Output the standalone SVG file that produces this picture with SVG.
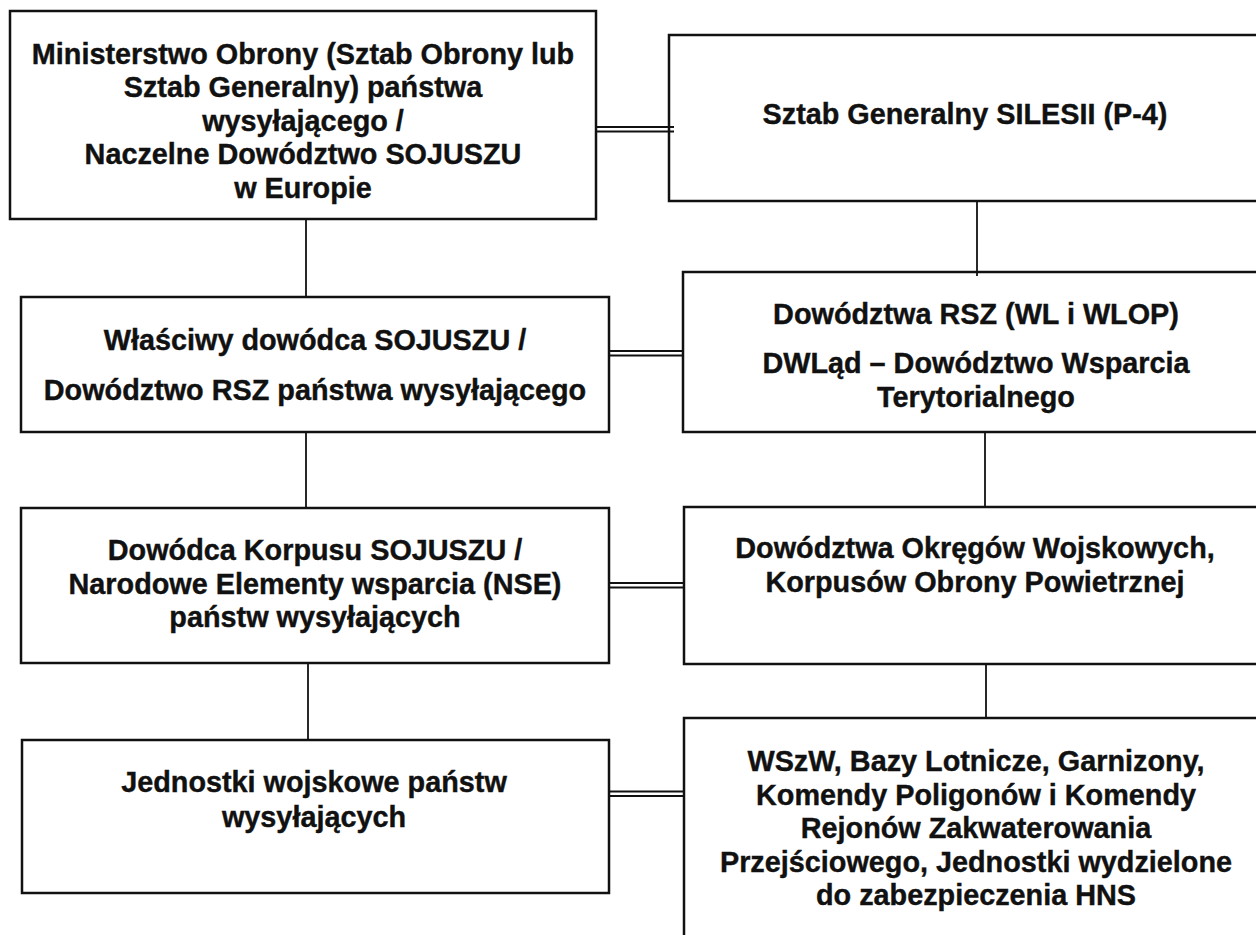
<svg xmlns="http://www.w3.org/2000/svg" width="1256" height="935" viewBox="0 0 1256 935">
<style>
.box{fill:#fff;stroke:#111;stroke-width:2.5}
.c{stroke:#111;stroke-width:1.8;fill:none}
.d{stroke:#111;stroke-width:2;fill:none}
.t{font-family:"Liberation Sans",Arial,sans-serif;font-weight:bold;font-size:28.8px;fill:#111;stroke:#111;stroke-width:0.4;text-anchor:middle}
</style>
<rect width="1256" height="935" fill="#fff"/>
<g id="n1">
<rect class="box" x="10" y="11" width="586" height="208"/>
<text class="t" x="303" y="63.5">Ministerstwo Obrony (Sztab Obrony lub</text>
<text class="t" x="303" y="97">Sztab Generalny) państwa</text>
<text class="t" x="303" y="130.5">wysyłającego /</text>
<text class="t" x="303" y="164">Naczelne Dowództwo SOJUSZU</text>
<text class="t" x="303" y="197.5">w Europie</text>
</g>
<g id="n2">
<rect class="box" x="669" y="35" width="600" height="166"/>
<text class="t" x="965" y="123.5">Sztab Generalny SILESII (P-4)</text>
</g>
<g id="n3">
<rect class="box" x="21" y="297" width="588" height="135"/>
<text class="t" x="315" y="350">Właściwy dowódca SOJUSZU /</text>
<text class="t" x="315" y="399.5">Dowództwo RSZ państwa wysyłającego</text>
</g>
<g id="n4">
<rect class="box" x="683" y="272" width="590" height="160"/>
<text class="t" x="976" y="324">Dowództwa RSZ (WL i WLOP)</text>
<text class="t" x="976" y="373">DWLąd – Dowództwo Wsparcia</text>
<text class="t" x="976" y="407">Terytorialnego</text>
</g>
<g id="n5">
<rect class="box" x="21" y="508" width="588" height="155"/>
<text class="t" x="315" y="560">Dowódca Korpusu SOJUSZU /</text>
<text class="t" x="315" y="593.5">Narodowe Elementy wsparcia (NSE)</text>
<text class="t" x="315" y="627">państw wysyłających</text>
</g>
<g id="n6">
<rect class="box" x="684" y="507" width="590" height="157"/>
<text class="t" x="975" y="558">Dowództwa Okręgów Wojskowych,</text>
<text class="t" x="975" y="592">Korpusów Obrony Powietrznej</text>
</g>
<g id="n7">
<rect class="box" x="22" y="740" width="587" height="153"/>
<text class="t" x="314" y="792">Jednostki wojskowe państw</text>
<text class="t" x="314" y="827">wysyłających</text>
</g>
<g id="n8">
<rect class="box" x="684" y="718" width="590" height="240"/>
<text class="t" x="976" y="771">WSzW, Bazy Lotnicze, Garnizony,</text>
<text class="t" x="976" y="804.5">Komendy Poligonów i Komendy</text>
<text class="t" x="976" y="838">Rejonów Zakwaterowania</text>
<text class="t" x="976" y="871.5">Przejściowego, Jednostki wydzielone</text>
<text class="t" x="976" y="905">do zabezpieczenia HNS</text>
</g>
<g id="connectors">
<line class="c" x1="306" y1="219" x2="306" y2="297"/>
<line class="c" x1="306" y1="432" x2="306" y2="508"/>
<line class="c" x1="308" y1="663" x2="308" y2="740"/>
<line class="c" x1="977" y1="201" x2="977" y2="276"/>
<line class="c" x1="985" y1="432" x2="985" y2="507"/>
<line class="c" x1="986" y1="664" x2="986" y2="718"/>
<path class="d" d="M596 127H674M596 131.5H674"/>
<path class="d" d="M609 351H683M609 355.5H683"/>
<path class="d" d="M609 583H684M609 587.5H684"/>
<path class="d" d="M609 791.5H684M609 796H684"/>
</g>
</svg>
